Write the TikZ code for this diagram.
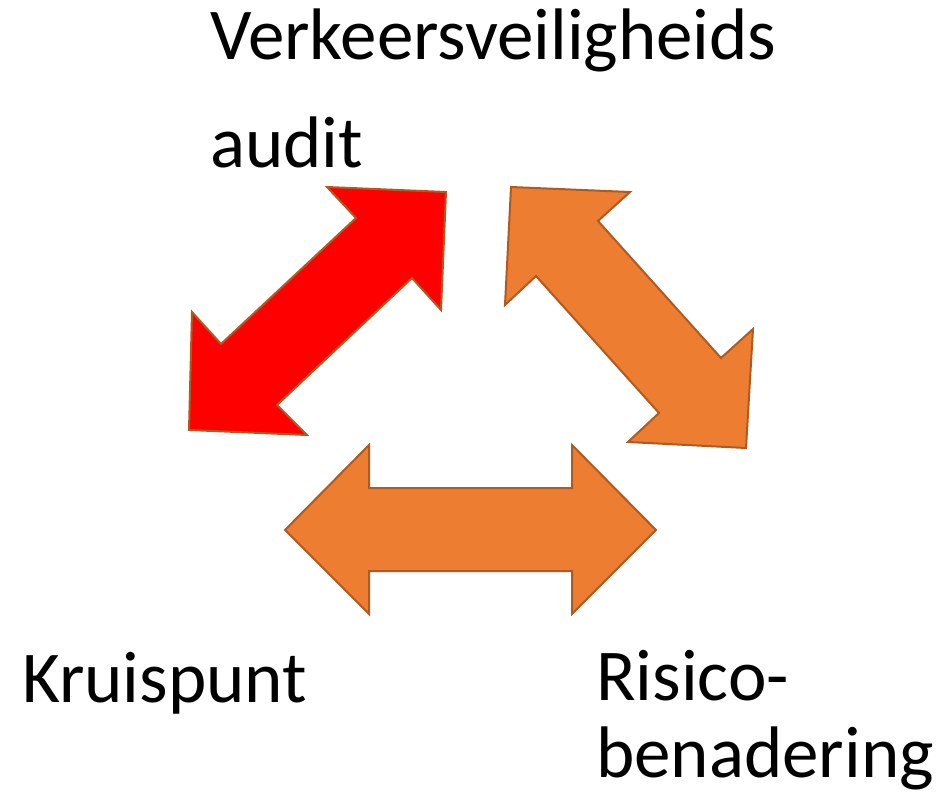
\documentclass[tikz,border=0pt]{standalone}
\usepackage{fontspec}
\setmainfont{Carlito}
\definecolor{accentorange}{HTML}{ED7D31}
\definecolor{outlinebrown}{HTML}{AE5A21}
\definecolor{pureRed}{HTML}{FF0000}
\tikzset{
  arrowshape/.style={draw=outlinebrown, line width=2pt, line join=miter},
  label/.style={inner sep=0pt, anchor=base west, font=\fontsize{73}{88}\selectfont}
}
\begin{document}
\begin{tikzpicture}[x=1pt,y=-1pt]
\useasboundingbox (0,0) rectangle (948,795);
% red double arrow
\draw[arrowshape, fill=pureRed]
  (446,192) -- (327,187) -- (356,218) -- (221,344) -- (192,312) -- (189,430)
  -- (307,435) -- (277,405) -- (412,278) -- (441,310) -- cycle;
% orange diagonal double arrow
\draw[arrowshape, fill=accentorange]
  (511,187) -- (630,192) -- (598,221) -- (721,358) -- (753,329) -- (746,448)
  -- (628,442) -- (659,413) -- (536,276) -- (505,305) -- cycle;
% orange horizontal double arrow
\draw[arrowshape, fill=accentorange]
  (285,530) -- (369,445) -- (369,488) -- (572,488) -- (572,445) -- (656,530)
  -- (572,614) -- (572,571) -- (369,571) -- (369,614) -- cycle;
% labels
\node[label] (t1) at (210,59) {Verkeersveiligheids};
\node[label] (t2) at (210,167) {audit};
\node[label] (k) at (22,702) {Kruispunt};
\node[label] (r1) at (596,700) {Risico-};
\node[label] (r2) at (596,777) {benadering};
\end{tikzpicture}
\end{document}
